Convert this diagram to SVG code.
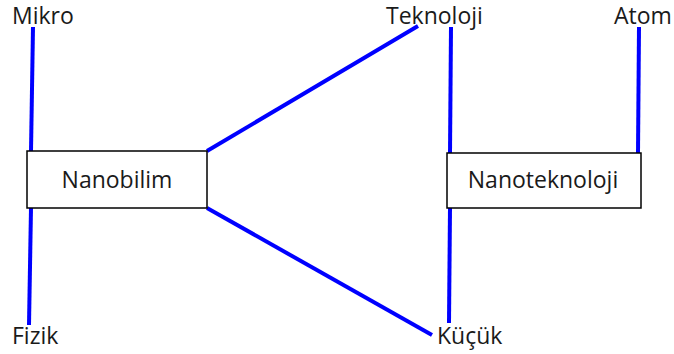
<svg xmlns="http://www.w3.org/2000/svg" width="674" height="354" viewBox="0 0 674 354">
<style>
.lbl{font-family:"Open Sans","Noto Sans","Liberation Sans",sans-serif;font-size:23px;fill:#1a1a1a}
.box{fill:#fff;stroke:#000;stroke-width:1.5}
.conn line{stroke:#0000ff;stroke-width:4;stroke-linecap:butt}
</style>
<rect width="674" height="354" fill="#fff"/>
<g id="connectors" class="conn">
<line x1="33" y1="27" x2="31" y2="151"/>
<line x1="31" y1="208" x2="29" y2="325"/>
<line x1="207" y1="151" x2="418" y2="26"/>
<line x1="207" y1="208" x2="432" y2="335"/>
<line x1="451" y1="27" x2="450" y2="153"/>
<line x1="639" y1="27" x2="638" y2="153"/>
<line x1="450" y1="208" x2="449" y2="323"/>
</g>
<g id="mikro"><text class="lbl" x="12" y="24">Mikro</text></g>
<g id="fizik"><text class="lbl" x="12" y="344">Fizik</text></g>
<g id="teknoloji"><text class="lbl" x="386" y="24">Teknoloji</text></g>
<g id="atom"><text class="lbl" x="614" y="24">Atom</text></g>
<g id="kucuk"><text class="lbl" x="437" y="344">Küçük</text></g>
<g id="nanobilim">
<rect class="box" x="27" y="151" width="180" height="57"/>
<text class="lbl" x="117" y="188" text-anchor="middle">Nanobilim</text>
</g>
<g id="nanoteknoloji">
<rect class="box" x="447" y="153" width="194" height="55"/>
<text class="lbl" x="543" y="188" text-anchor="middle">Nanoteknoloji</text>
</g>
</svg>
